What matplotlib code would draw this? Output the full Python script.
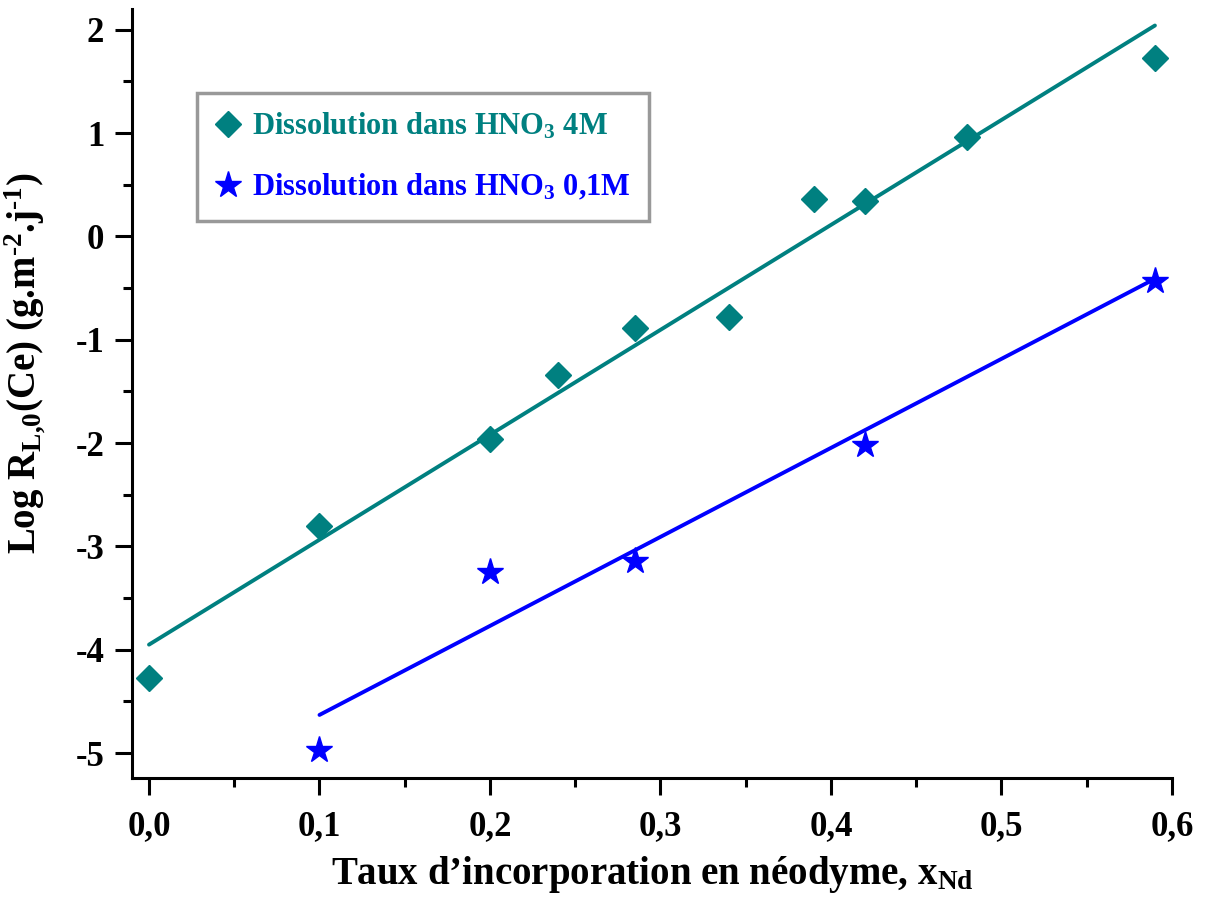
import matplotlib
matplotlib.use('Agg')
import matplotlib.pyplot as plt
from matplotlib.ticker import MultipleLocator, FuncFormatter

plt.rcParams['font.family'] = 'Liberation Serif'
plt.rcParams['font.weight'] = 'bold'
plt.rcParams['axes.labelweight'] = 'bold'
plt.rcParams['mathtext.fontset'] = 'custom'
plt.rcParams['mathtext.rm'] = 'Liberation Serif:bold'
plt.rcParams['mathtext.bf'] = 'Liberation Serif:bold'
plt.rcParams['mathtext.it'] = 'Liberation Serif:bold'
plt.rcParams['axes.unicode_minus'] = False

# HNO3 4M
x_4m = [0.0, 0.1, 0.2, 0.24, 0.285, 0.34, 0.39, 0.42, 0.48, 0.59]
y_4m = [-4.27, -2.80, -1.96, -1.34, -0.89, -0.78, 0.36, 0.34, 0.96, 1.73]
fit_4m_x = [0.0, 0.59]
fit_4m_y = [-3.95, 2.04]

# HNO3 0,1M
x_01m = [0.1, 0.2, 0.285, 0.42, 0.59]
y_01m = [-4.97, -3.25, -3.14, -2.02, -0.43]
fit_01m_x = [0.1, 0.59]
fit_01m_y = [-4.63, -0.41]

teal = '#008080'
blue = '#0000ff'

fig = plt.figure(figsize=(12.05, 8.97), dpi=100)
ax = fig.add_axes([0.1095, 0.1327, 0.8631, 0.8573])

ax.plot(fit_4m_x, fit_4m_y, color=teal, lw=2.8, solid_capstyle='round')
ax.plot(fit_01m_x, fit_01m_y, color=blue, lw=2.8, solid_capstyle='round')
ax.plot(x_4m, y_4m, 'D', color=teal, ms=13, ls='none',
        label=r'Dissolution dans HNO$_3$ 4M')
ax.plot(x_01m, y_01m, '*', color=blue, ms=20, ls='none',
        label=r'Dissolution dans HNO$_3$ 0,1M')

ax.set_xlim(-0.01, 0.6)
ax.set_ylim(-5.24, 2.2)

for s in ['top', 'right']:
    ax.spines[s].set_visible(False)
for s in ['left', 'bottom']:
    ax.spines[s].set_linewidth(2.2)

ax.xaxis.set_major_locator(MultipleLocator(0.1))
ax.xaxis.set_minor_locator(MultipleLocator(0.05))
ax.yaxis.set_major_locator(MultipleLocator(1))
ax.yaxis.set_minor_locator(MultipleLocator(0.5))
ax.xaxis.set_major_formatter(FuncFormatter(lambda v, p: f'{v:.1f}'.replace('.', ',')))
ax.yaxis.set_major_formatter(FuncFormatter(lambda v, p: f'{v:.0f}'))
ax.tick_params(which='major', direction='out', length=12, width=2.2, labelsize=25, pad=8)
ax.tick_params(axis='x', which='major', pad=11)
ax.tick_params(which='minor', direction='out', length=6.5, width=2.2)

ax.set_xlabel(r'Taux d’incorporation en néodyme, x$_{\mathrm{Nd}}$',
              fontsize=28, fontweight='bold', labelpad=8)
ax.set_ylabel(r'Log R$_{\mathrm{L{,}0}}$(Ce) (g.m$^{\mathrm{‐2}}$.j$^{\mathrm{‐1}}$)',
              fontsize=28, fontweight='bold')
ax.yaxis.set_label_coords(-0.082, 0.54)

leg = ax.legend(loc='upper left', bbox_to_anchor=(0.0625, 0.891), fontsize=22,
                frameon=True, fancybox=False, handlelength=0.8, handletextpad=0.4,
                borderpad=0.6, labelspacing=1.0, borderaxespad=0)
leg.get_frame().set_edgecolor('#808080')
leg.get_frame().set_linewidth(2.5)
for t, c in zip(leg.get_texts(), [teal, blue]):
    t.set_color(c)

fig.savefig('out.png', dpi=100)
